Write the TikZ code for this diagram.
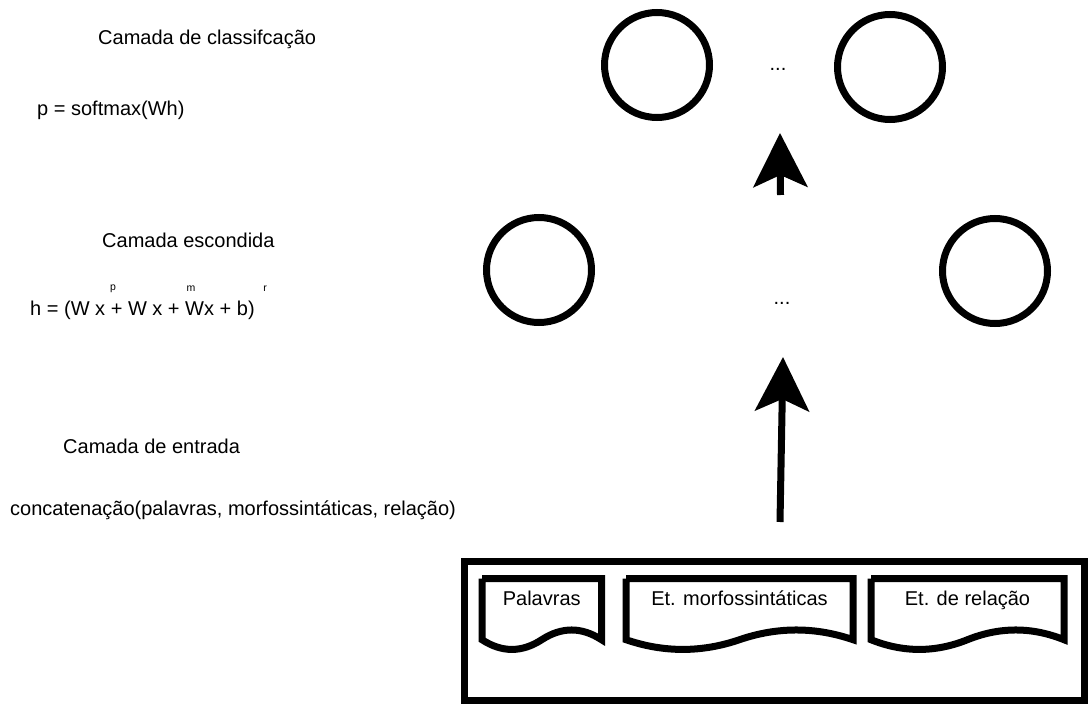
\documentclass[tikz,border=0pt]{standalone}
\usepackage{fontspec}
\setmainfont{Liberation Sans}
\usetikzlibrary{arrows.meta}

% Document-shaped box with a wavy lower edge: x, y (top left), width, height
\newcommand\wavedoc[4]{%
  \draw[docline] (#1,#2) -- ({#1+#3},#2) -- ({#1+#3},{#2+0.85*#4})
    .. controls ({#1+0.8333*#3},{#2+0.67*#4}) and ({#1+0.6667*#3},{#2+0.67*#4}) .. ({#1+0.5*#3},{#2+0.85*#4})
    .. controls ({#1+0.3333*#3},{#2+1.03*#4}) and ({#1+0.1667*#3},{#2+1.03*#4}) .. (#1,{#2+0.85*#4})
    -- (#1,#2);}

\begin{document}
\begin{tikzpicture}[x=1pt,y=-1pt,
  neuron/.style={circle, draw, line width=7pt, minimum size=105pt, inner sep=0pt, outer sep=0pt},
  lbl/.style={anchor=base west, inner sep=0pt, font=\fontsize{20}{24}\selectfont},
  doctext/.style={anchor=base, inner sep=0pt, font=\fontsize{20}{24}\selectfont},
  dots/.style={anchor=base, inner sep=0pt, font=\fontsize{20}{24}\selectfont},
  supscr/.style={anchor=base, inner sep=0pt, font=\fontsize{10.5}{12}\selectfont},
  docline/.style={line width=7pt},
  flow/.style={line width=7pt, -{Stealth[length=54pt,width=54pt,inset=12pt]}}]

\useasboundingbox (0,0) rectangle (1088,704);

% left-hand descriptions of the layers
\node[lbl] (tclass) at (98,45) {Camada de classifcação};
\node[lbl] (fclass) at (37,115) {p = softmax(Wh)};
\node[lbl] (thid) at (102,247) {Camada escondida};
\node[lbl] (fhid) at (30,315) {h = (W x + W x + Wx + b)};
\node[supscr] (sp) at (113,290) {p};
\node[supscr] (sm) at (191,291) {m};
\node[supscr] (sr) at (265,291) {r};
\node[lbl] (tin) at (63,453) {Camada de entrada};
\node[lbl] (fin) at (10,515) {concatenação(palavras, morfossintáticas, relação)};

% classification layer
\node[neuron] (c1) at (657,65) {};
\node[neuron] (c2) at (890,67) {};
\node[dots] (cdots) at (778,70) {...};

% hidden layer
\node[neuron] (h1) at (539,270) {};
\node[neuron] (h2) at (995,271) {};
\node[dots] (hdots) at (782,304) {...};

% input layer
\node[draw, line width=7pt, outer sep=0pt, inner sep=0pt, anchor=north west,
      minimum width=620.5pt, minimum height=139pt] (inbox) at (464,561.5) {};
\wavedoc{482}{578.5}{119.5}{72}
\wavedoc{626}{578.5}{227}{72}
\wavedoc{871}{578.5}{193}{72}
\node[doctext] (d1) at (541.75,605) {Palavras};
\node[doctext] (d2) at (739.5,605) {Et. morfossintáticas};
\node[doctext] (d3) at (967.5,605) {Et. de relação};

% flow between layers
\coordinate (a1s) at (780,522);
\coordinate (a1e) at (783,357);
\coordinate (a2s) at (780.5,195);
\coordinate (a2e) at (780,133);
\draw[flow] (a1s) -- (a1e);
\draw[flow] (a2s) -- (a2e);
\end{tikzpicture}
\end{document}
